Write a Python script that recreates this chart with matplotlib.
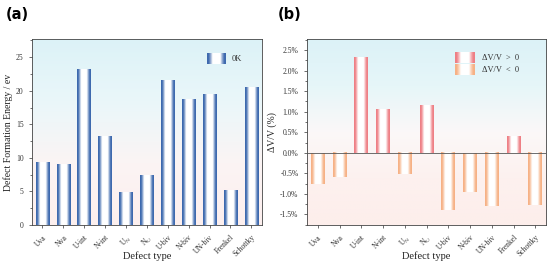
import matplotlib
matplotlib.use("Agg")
import matplotlib.pyplot as plt
import numpy as np
from matplotlib.colors import LinearSegmentedColormap
from matplotlib.ticker import MultipleLocator, FuncFormatter

plt.rcParams['font.family'] = ['Liberation Serif', 'DejaVu Serif']
plt.rcParams['mathtext.fontset'] = 'custom'
plt.rcParams['mathtext.rm'] = 'Liberation Serif'
plt.rcParams['mathtext.it'] = 'Liberation Serif:italic'

# data
defects = ['Uva', 'Nva', 'U-int', 'N-int', r'U$_\mathrm{N}$', r'N$_\mathrm{U}$',
           'U-biv', 'N-biv', 'UN-biv', 'Frenkel', 'Schottky']
energy = [9.3, 9.0, 23.1, 13.2, 4.9, 7.4, 21.5, 18.7, 19.5, 5.1, 20.5]
dv = [-0.75, -0.60, 2.33, 1.05, -0.52, 1.15, -1.40, -0.95, -1.30, 0.40, -1.28]

blue = '#3d69ae'
red = '#ee7f85'
orange = '#f6b185'

# horizontal gradient: dark at both edges, white in the middle
t = np.linspace(0, 1, 128)
d = np.abs(t - 0.5) * 2
prof = np.clip((d - 0.42) / 0.42, 0, 1) ** 0.8
prof = prof[np.newaxis, :]


def grad_bar(ax, x, h, color, width=0.64):
    cmap = LinearSegmentedColormap.from_list('g', ['white', color])
    lo, hi = min(0, h), max(0, h)
    ax.imshow(prof, extent=[x - width / 2, x + width / 2, lo, hi], aspect='auto',
              cmap=cmap, vmin=0, vmax=1, zorder=2, interpolation='bilinear')


def background(ax, stops):
    cmap = LinearSegmentedColormap.from_list('bg', stops)
    g = np.linspace(0, 1, 256)[:, np.newaxis]
    ax.imshow(g, extent=[0, 1, 0, 1], transform=ax.transAxes, aspect='auto',
              cmap=cmap, origin='lower', zorder=0, interpolation='bilinear')


def legend_swatch(ax, x0, y0, color, label):
    # small gradient swatch in axes coords
    w, h = 0.08, 0.055
    cmap = LinearSegmentedColormap.from_list('g', ['white', color])
    ax.imshow(prof, extent=[x0, x0 + w, y0, y0 + h], transform=ax.transAxes,
              aspect='auto', cmap=cmap, vmin=0, vmax=1, zorder=5, interpolation='bilinear')
    ax.text(x0 + w + 0.03, y0 + h / 2, label, transform=ax.transAxes, fontsize=6,
            va='center', ha='left', color='#333333', zorder=6)


def style(ax):
    for s in ax.spines.values():
        s.set_linewidth(0.6)
        s.set_color('#444444')
    ax.tick_params(axis='both', which='major', direction='out', length=2.5, width=0.5,
                   labelsize=5.5, colors='#333333', top=False, right=False)
    ax.tick_params(axis='y', which='minor', direction='out', length=1.5, width=0.4,
                   right=False)
    ax.set_xticks(range(len(defects)))
    ax.set_xticklabels(defects, rotation=45, ha='right', rotation_mode='anchor', fontsize=5.5)
    ax.set_xlim(-0.5, len(defects) - 0.5)
    ax.set_xlabel('Defect type', fontsize=7.5, color='#222222')
    ax.xaxis.set_label_coords(0.5, -0.14)


fig = plt.figure(figsize=(5.5, 2.66), dpi=100)
ax1 = fig.add_axes([0.058, 0.154, 0.418, 0.699])
ax2 = fig.add_axes([0.558, 0.154, 0.435, 0.699])

# panel a
background(ax1, ['#fdefee', '#fbf4f4', '#eaf7fa', '#dcf2f7'])
for i, v in enumerate(energy):
    grad_bar(ax1, i, v, blue)
ax1.set_ylim(0, 27.7)
ax1.yaxis.set_major_locator(MultipleLocator(5))
ax1.yaxis.set_minor_locator(MultipleLocator(2.5))
style(ax1)
ax1.set_ylabel('Defect Formation Energy / ev', fontsize=7, labelpad=2, color='#222222')
legend_swatch(ax1, 0.76, 0.865, blue, '0K')

# panel b
background(ax2, ['#fdeeeb', '#fdf1ef', '#fbf8f8', '#e6f6f9', '#dcf2f7'])
for i, v in enumerate(dv):
    grad_bar(ax2, i, v, red if v > 0 else orange)
ax2.axhline(0, color='#555555', lw=0.6, zorder=3)
ax2.set_ylim(-1.76, 2.77)
ax2.yaxis.set_major_locator(MultipleLocator(0.5))
ax2.yaxis.set_minor_locator(MultipleLocator(0.25))
ax2.yaxis.set_major_formatter(FuncFormatter(lambda v, p: f'{v:.1f}%'))
style(ax2)
ax2.set_ylabel('ΔV/V (%)', fontsize=7, labelpad=2, color='#222222')
legend_swatch(ax2, 0.62, 0.87, red, 'ΔV/V  >  0')
legend_swatch(ax2, 0.62, 0.805, orange, 'ΔV/V  <  0')

fig.text(0.01, 0.975, '(a)', fontsize=10.5, fontweight='bold', family='DejaVu Sans',
         va='top')
fig.text(0.505, 0.975, '(b)', fontsize=10.5, fontweight='bold', family='DejaVu Sans',
         va='top')

fig.savefig('out.png', dpi=100)
